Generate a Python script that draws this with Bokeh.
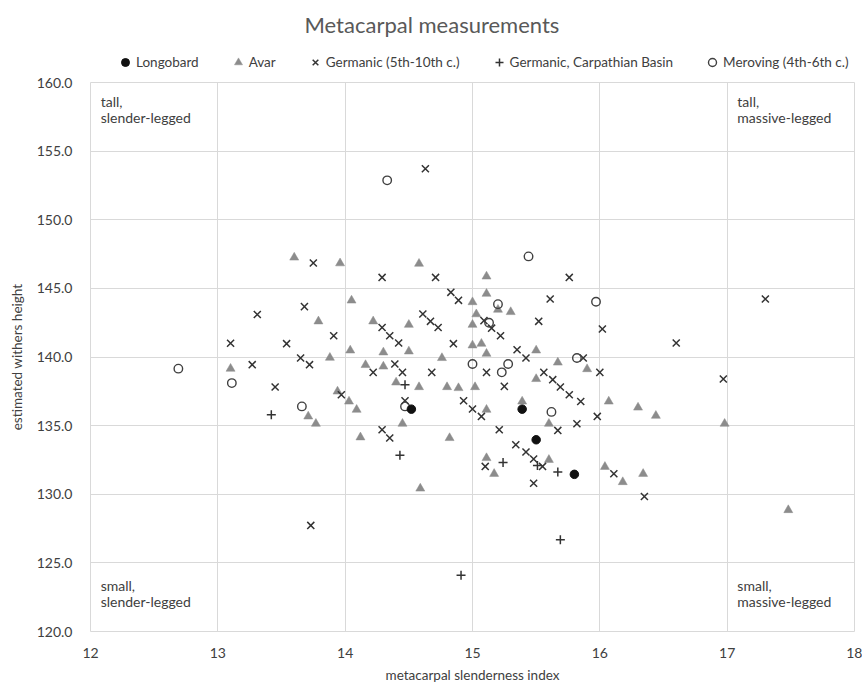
from bokeh.plotting import figure
from bokeh.layouts import column
from bokeh.models import Range1d, FixedTicker, Legend, LegendItem, PrintfTickFormatter
from bokeh.embed import file_html
from bokeh.resources import INLINE
from bokeh.core.properties import value

FONT = "Lato"
TXT = "#404040"

# ---------------- data ----------------
longobard_x = [14.52, 15.39, 15.50, 15.80]
longobard_y = [136.2, 136.2, 133.97, 131.45]

avar_x = [13.10, 13.60, 13.96, 14.05, 13.79, 14.22, 14.04, 13.88, 14.16, 14.30,
          14.30, 14.50, 14.50, 14.58, 15.11, 15.11, 15.00, 15.03, 15.00, 15.30,
          15.20, 15.00, 15.07, 15.11, 14.76, 15.50, 15.67, 15.90, 15.50, 14.40,
          14.58, 14.80, 14.89, 15.02, 13.94, 14.03, 14.09, 13.71, 13.77, 14.12,
          14.45, 14.82, 15.11, 15.39, 15.60, 16.07, 16.30, 16.44, 16.98, 14.59,
          15.11, 15.17, 15.60, 16.04, 16.18, 16.34, 17.48]
avar_y = [139.15, 147.25, 146.83, 144.12, 142.60, 142.60, 140.48, 139.95, 139.42, 140.34,
          139.31, 140.41, 142.35, 146.80, 145.87, 144.61, 144.00, 143.12, 142.35, 143.28,
          143.45, 140.85, 140.97, 140.24, 139.93, 140.48, 139.60, 139.12, 138.40, 138.15,
          137.81, 137.81, 137.74, 137.81, 137.49, 136.76, 136.16, 135.67, 135.14, 134.15,
          135.14, 134.10, 136.16, 136.76, 135.14, 136.76, 136.32, 135.72, 135.14, 130.42,
          132.64, 131.49, 132.51, 132.00, 130.89, 131.49, 128.85]

germanic_x = [13.10, 13.27, 13.31, 13.45, 13.54, 13.65, 13.68, 13.72, 13.73, 13.75,
              13.91, 13.97, 14.22, 14.29, 14.29, 14.35, 14.42, 14.29, 14.35, 14.39,
              14.45, 14.47, 14.61, 14.67, 14.73, 14.63, 14.71, 14.83, 14.89, 14.85,
              14.68, 14.93, 15.00, 15.07, 15.09, 15.15, 15.22, 15.11, 15.25, 15.21,
              15.35, 15.42, 15.52, 15.61, 15.76, 15.87, 16.02, 16.00, 15.56, 15.63,
              15.69, 15.76, 15.85, 15.82, 15.67, 15.98, 15.34, 15.42, 15.48, 15.55,
              15.10, 15.48, 16.11, 16.35, 16.60, 16.97, 17.30]
germanic_y = [141.00, 139.44, 143.10, 137.81, 140.97, 139.93, 143.67, 139.44, 127.73, 146.85,
              141.55, 137.25, 138.88, 145.80, 142.15, 141.55, 141.02, 134.70, 134.10, 139.49,
              138.88, 136.81, 143.13, 142.60, 142.15, 153.72, 145.80, 144.71, 144.13, 140.97,
              138.88, 136.81, 136.21, 135.67, 142.65, 142.10, 141.55, 138.88, 137.86, 134.70,
              140.53, 139.93, 142.60, 144.23, 145.80, 139.93, 142.04, 138.88, 138.88, 138.35,
              137.81, 137.25, 136.76, 135.14, 134.65, 135.67, 133.61, 133.08, 132.57, 132.03,
              132.03, 130.80, 131.49, 129.84, 141.02, 138.40, 144.23]

carpathian_x = [13.42, 14.47, 14.43, 14.91, 15.24, 15.51, 15.67, 15.69]
carpathian_y = [135.79, 137.98, 132.85, 124.10, 132.32, 132.10, 131.62, 126.69]

meroving_x = [12.69, 13.11, 13.66, 14.33, 14.47, 15.00, 15.13, 15.20, 15.23, 15.28,
              15.44, 15.62, 15.82, 15.97]
meroving_y = [139.15, 138.10, 136.40, 152.87, 136.40, 139.49, 142.50, 143.85, 138.88, 139.49,
              147.33, 136.00, 139.93, 144.03]

series_labels = ["Longobard", "Avar", "Germanic (5th-10th c.)",
                 "Germanic, Carpathian Basin", "Meroving (4th-6th c.)"]
series_x = [longobard_x, avar_x, germanic_x, carpathian_x, meroving_x]
series_y = [longobard_y, avar_y, germanic_y, carpathian_y, meroving_y]

x_ticks = [12, 13, 14, 15, 16, 17, 18]
y_ticks = [120, 125, 130, 135, 140, 145, 150, 155, 160]

corner_x = [12.08, 17.08, 12.08, 17.08]
corner_y = [159.2, 159.2, 121.6, 121.6]
corner_text = ["tall,\nslender-legged", "tall,\nmassive-legged",
               "small,\nslender-legged", "small,\nmassive-legged"]

# marker styles
STY = {
    "Longobard": dict(marker="circle", size=8.5, fill_color="#111111", line_color="#111111"),
    "Avar": dict(marker="triangle", size=9, fill_color="#8c8c8c", line_color="#8c8c8c", line_width=0.5),
    "Germanic (5th-10th c.)": dict(marker="x", size=10, line_color="#333333", line_width=1.5),
    "Germanic, Carpathian Basin": dict(marker="cross", size=9, line_color="#333333", line_width=1.5),
    "Meroving (4th-6th c.)": dict(marker="circle", size=8.5, fill_color=None, line_color="#404040", line_width=1.4),
}

# ---------------- header (title + legend) ----------------
# the header's ranges exclude all data, so its scatter copies only feed the legend swatches
top = figure(width=862, height=72, output_backend="svg", toolbar_location=None,
             x_axis_location=None, y_axis_location=None,
             x_range=Range1d(0, 1), y_range=Range1d(0, 1),
             min_border_left=0, min_border_right=0, min_border_top=38, min_border_bottom=0,
             title="Metacarpal measurements")
top.outline_line_color = None
top.grid.visible = False
top.title.align = "left"
top.title.offset = 214
top.title.text_font = FONT
top.title.text_font_size = "22px"
top.title.text_font_style = "normal"
top.title.text_color = "#595959"
top.title.standoff = 2

items = []
for lab, sx, sy in zip(series_labels, series_x, series_y):
    r = top.scatter(sx, sy, **STY[lab])
    items.append(LegendItem(label=lab, renderers=[r]))
legend = Legend(items=items, orientation="horizontal", location=(25, 0))
legend.label_text_font = FONT
legend.label_text_font_size = "13.5px"
legend.label_text_color = TXT
legend.border_line_color = None
legend.background_fill_alpha = 0
legend.spacing = 29
legend.glyph_width = 20
legend.glyph_height = 20
legend.label_standoff = 1
legend.padding = 0
legend.margin = 0
top.add_layout(legend, "center")

# ---------------- main plot ----------------
p = figure(frame_width=764, frame_height=549, output_backend="svg", toolbar_location=None,
           x_range=Range1d(12, 18), y_range=Range1d(120, 160),
           min_border_left=90, min_border_right=8, min_border_top=10, min_border_bottom=0)

p.outline_line_color = "#d9d9d9"
for g in (p.xgrid, p.ygrid):
    g.grid_line_color = "#d9d9d9"
    g.grid_line_width = 1

p.xaxis.ticker = FixedTicker(ticks=x_ticks)
p.yaxis.ticker = FixedTicker(ticks=y_ticks)
p.xgrid.ticker = FixedTicker(ticks=x_ticks)
p.ygrid.ticker = FixedTicker(ticks=y_ticks)
p.yaxis.formatter = PrintfTickFormatter(format="%.1f")

for ax in (p.xaxis, p.yaxis):
    ax.axis_line_color = None
    ax.major_tick_line_color = None
    ax.minor_tick_line_color = None
    ax.major_label_text_font = FONT
    ax.major_label_text_font_size = "14px"
    ax.major_label_text_color = TXT
    ax.axis_label_text_font = FONT
    ax.axis_label_text_font_size = "13.5px"
    ax.axis_label_text_font_style = "normal"
    ax.axis_label_text_color = TXT

p.xaxis.axis_label = "metacarpal slenderness index"
p.yaxis.axis_label = "estimated withers height"
p.xaxis.major_label_standoff = 10
p.yaxis.major_label_standoff = 12
p.xaxis.axis_label_standoff = 6
p.yaxis.axis_label_standoff = 9

p.scatter(avar_x, avar_y, **STY["Avar"])
p.scatter(germanic_x, germanic_y, **STY["Germanic (5th-10th c.)"])
p.scatter(carpathian_x, carpathian_y, **STY["Germanic, Carpathian Basin"])
p.scatter(meroving_x, meroving_y, **STY["Meroving (4th-6th c.)"])
p.scatter(longobard_x, longobard_y, **STY["Longobard"])

p.text(x=corner_x[:2], y=corner_y[:2], text=corner_text[:2],
       text_font=value(FONT), text_font_size="14px", text_color=TXT,
       text_align="left", text_baseline="top", text_line_height=0.9)
p.text(x=corner_x[2:], y=corner_y[2:], text=corner_text[2:],
       text_font=value(FONT), text_font_size="14px", text_color=TXT,
       text_align="left", text_baseline="bottom", text_line_height=0.9)

layout = column(top, p, spacing=0)
open("out.html", "w").write(file_html(layout, INLINE))
